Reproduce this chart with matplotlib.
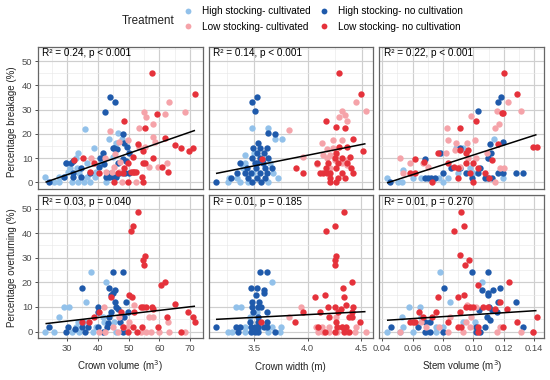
import numpy as np
import matplotlib
matplotlib.use('Agg')
import matplotlib.pyplot as plt
from matplotlib.lines import Line2D
from matplotlib.ticker import FixedLocator

plt.rcParams['font.family'] = ['Liberation Sans', 'DejaVu Sans']

# ---------------- data ----------------
group_labels = ['High stocking- cultivated', 'High stocking- no cultivation',
                'Low stocking- cultivated', 'Low stocking- no cultivation']
group_colors = ['#92c1ea', '#1f5aab', '#f5a3a9', '#e5323b']

x_titles = ['Crown volume (m$^3$)', 'Crown width (m)', 'Stem volume (m$^3$)']
y_titles = ['Percentage breakage (%)', 'Percentage overturning (%)']

stats_text = ['R\u00b2 = 0.24, p < 0.001', 'R\u00b2 = 0.14, p < 0.001', 'R\u00b2 = 0.22, p < 0.001',
              'R\u00b2 = 0.03, p = 0.040', 'R\u00b2 = 0.01, p = 0.185', 'R\u00b2 = 0.01, p = 0.270']
fit_slope = [0.44, 8.85, 202.5, 0.146, 2.25, 39.8]
fit_intercept = [-10.1, -24.2, -9.0, -0.13, -2.1, 2.9]

# Panel 1: crown volume vs breakage
p1_hc = [(36.0,22.1),(46.6,20.4),(43.8,17.9),(47.8,17.9),(38.7,14.2),(33.5,11.9),(32.9,9.9),(36.4,7.8),
         (33.1,6.0),(30.4,4.2),(31.0,6.0),(27.5,2.1),(25.9,0),(27.3,0),(23.0,2.1),(33.5,0),(35.6,0),
         (36.5,2.1),(39.4,4.2),(41.1,7.8),(44.9,10.5),(45.9,16.0),(42.7,0),(46.0,2.1),(39.2,2.1),
         (29.7,7.8),(31.5,0),(29.0,2.1),(34.0,4.0),(37.5,0),(44.0,2.1),(48.0,4.0)]
p1_hn = [(43.9,35.2),(45.6,33.2),(42.5,29.0),(48.1,20.1),(49.5,14.7),(48.5,16.0),(45.4,14.2),(46.2,13.8),
         (44.9,14.2),(41.6,12.2),(40.7,9.9),(48.3,9.6),(49.2,8.9),(50.1,11.9),(46.7,7.8),(32.1,8.9),
         (29.7,7.8),(31.4,7.8),(34.5,5.9),(32.1,4.0),(31.9,2.1),(34.6,2.1),(24.3,0),(28.9,2.1),(40.5,6.2),
         (42.7,2.1),(43.8,2.1),(44.9,2.1),(45.8,2.1),(42.9,4.0),(47.0,4.0),(49.0,4.0),(50.1,4.0),
         (37.5,4.0),(41.9,7.5)]
p1_lc = [(63.1,33.2),(68.2,29.0),(55.1,29.0),(55.7,27.0),(61.7,28.1),(57.9,24.2),(53.3,22.2),(58.1,18.8),
         (49.8,17.4),(47.0,16.7),(44.0,21.2),(37.8,10.1),(42.5,10.1),(45.5,11.5),(53.5,14.7),(55.4,14.7),
         (58.6,16.7),(59.5,6.2),(62.5,7.8),(56.8,6.2),(46.8,4.4),(47.9,0),(52.4,0),(45.4,6.2),(44.5,4.1),
         (42.7,4.1),(47.3,8.5)]
p1_ln = [(57.6,45.2),(71.6,36.4),(59.4,28.2),(48.6,25.3),(55.3,22.2),(61.9,18.1),(65.1,15.2),(66.9,14.2),
         (69.5,12.9),(71.1,14.1),(53.0,15.8),(54.8,12.7),(58.0,10.1),(51.4,10.3),(61.0,6.2),(62.7,4.1),
         (54.7,7.8),(55.3,7.8),(49.7,7.8),(50.8,4.2),(51.4,4.2),(51.9,4.2),(52.5,4.2),(48.6,5.9),(48.3,3.7),
         (54.4,2.1),(54.8,0),(45.4,0),(49.8,0),(40.5,4.0),(37.5,4.2),(32.4,9.3),(35.1,9.9),(38.7,7.8),
         (46.6,3.7)]

# Panel 2: crown width vs breakage
p2_hc = [(3.475,22.2),(3.630,22.2),(3.691,17.9),(3.753,17.9),(3.414,11.2),(3.414,8.1),(3.645,8.1),
         (3.398,6.0),(3.269,1.9),(3.336,1.9),(3.367,0),(3.444,0),(3.630,0),(3.722,1.9),(3.259,0),
         (3.670,4.0),(3.491,4.0),(3.497,12.2)]
p2_hn = [(3.478,33.2),(3.525,35.2),(3.506,29.3),(3.691,20.1),(3.623,20.4),(3.534,16.0),(3.491,14.2),
         (3.552,14.2),(3.614,14.2),(3.522,12.2),(3.590,12.2),(3.475,10.1),(3.552,10.1),(3.630,10.1),
         (3.568,9.2),(3.522,8.1),(3.583,8.1),(3.367,8.1),(3.429,6.0),(3.515,6.0),(3.599,6.0),(3.660,6.0),
         (3.336,4.0),(3.414,4.0),(3.466,4.0),(3.552,4.0),(3.614,4.0),(3.284,1.9),(3.444,1.9),(3.522,1.9),
         (3.599,1.9),(3.145,0),(3.475,0),(3.559,0),(3.506,7.8)]
p2_lc = [(4.441,33.2),(4.531,29.3),(4.315,29.3),(4.340,27.9),(4.287,27.0),(4.355,25.2),(3.824,21.4),
         (4.123,16.0),(4.231,17.4),(4.309,17.4),(4.176,13.9),(3.954,10.3),(4.139,11.2),(4.201,11.2),
         (4.262,11.2),(4.170,10.1),(4.247,9.2),(4.355,9.2),(4.309,8.1),(4.355,7.1),(4.077,7.4),
         (4.201,6.0),(4.231,14.2)]
p2_ln = [(4.284,45.2),(4.488,36.4),(4.164,25.3),(4.262,22.6),(4.340,22.2),(4.417,17.9),(4.509,13.0),
         (4.287,14.4),(4.355,14.4),(4.386,10.5),(4.262,11.9),(4.247,10.1),(4.309,10.1),(4.077,8.1),
         (4.185,8.1),(4.278,8.1),(4.355,8.1),(3.886,6.0),(4.164,6.0),(4.262,6.0),(4.401,6.0),(3.954,4.0),
         (4.108,4.0),(4.139,4.0),(4.170,4.0),(4.201,4.0),(4.309,4.0),(4.417,4.0),(4.201,1.9),(4.278,1.9),
         (4.340,1.9),(4.201,0),(4.262,0),(3.568,9.6)]

# Panel 3: stem volume vs breakage
p3_hc = [(0.1134,17.9),(0.0932,14.0),(0.0888,14.0),(0.0785,11.9),(0.0976,5.9),(0.0536,5.1),(0.0431,1.9),
         (0.0503,0),(0.0530,0),(0.0602,1.9),(0.0657,1.9),(0.0774,1.9),(0.0800,0),(0.0833,1.9),(0.0899,4.0),
         (0.0998,4.0),(0.1196,1.9),(0.1097,10.1)]
p3_hn = [(0.1180,35.2),(0.1163,33.2),(0.1031,29.3),(0.1108,15.6),(0.1196,16.7),(0.1114,11.9),(0.1097,10.1),
         (0.0910,14.0),(0.0778,11.9),(0.0679,9.5),(0.0453,0),(0.0679,1.9),(0.0701,1.9),(0.0723,1.9),
         (0.0745,1.9),(0.0800,4.0),(0.0855,6.0),(0.0910,6.0),(0.0954,4.0),(0.1031,4.0),(0.1075,1.9),
         (0.1097,1.9),(0.1119,1.9),(0.1163,4.0),(0.1196,4.0),(0.1279,4.0),(0.1327,4.0),(0.1042,6.0),
         (0.0993,1.9)]
p3_lc = [(0.1229,33.2),(0.1316,29.3),(0.1152,29.3),(0.0987,27.3),(0.1169,24.2),(0.1145,22.2),(0.0829,22.2),
         (0.0833,17.4),(0.0888,16.0),(0.0958,16.0),(0.1009,17.4),(0.1086,11.9),(0.0822,11.9),(0.0877,13.3),
         (0.1020,9.9),(0.0965,9.9),(0.0910,6.4),(0.0580,8.1),(0.0519,10.0),(0.0668,8.1),(0.0701,6.4),
         (0.1141,0),(0.1202,6.0),(0.1174,6.0),(0.0536,4.0)]
p3_ln = [(0.1202,45.2),(0.1284,36.4),(0.1196,28.4),(0.1187,28.4),(0.1020,25.3),(0.0914,22.2),(0.1393,14.4),
         (0.1415,14.4),(0.0767,12.2),(0.0910,13.3),(0.0965,13.3),(0.0954,11.9),(0.0613,9.7),(0.0677,8.5),
         (0.0833,8.1),(0.0870,6.4),(0.0580,4.0),(0.0613,4.0),(0.0899,6.0),(0.0949,7.8),(0.0998,7.8),
         (0.1031,6.0),(0.1075,4.0),(0.0730,0),(0.0899,1.9),(0.0998,0),(0.0976,4.0),(0.1119,9.2),
         (0.1103,1.9),(0.1163,15.6)]

# Panel 4: crown volume vs overturning
p4_hc = [(37.8,24.1),(42.7,20.0),(36.2,12.0),(28.9,10.0),(30.8,10.0),(27.3,6.1),(33.5,4.1),(35.6,4.1),
         (23.0,0),(25.7,0),(32.9,2.0),(31.5,0),(39.4,2.0),(42.1,4.1),(45.4,4.1),(38.6,0),(34.0,0),
         (45.9,0),(41.6,6.1)]
p4_hn = [(44.9,24.1),(48.3,24.1),(35.0,17.8),(43.8,17.8),(45.6,16.9),(44.9,15.8),(44.3,15.0),(45.6,11.9),
         (49.2,11.9),(40.0,10.0),(45.9,10.1),(46.5,9.1),(44.4,8.1),(49.8,8.1),(40.1,8.1),(48.6,6.1),
         (47.2,4.1),(43.8,5.8),(43.2,3.4),(34.9,2.0),(30.2,2.0),(24.3,2.0),(32.5,1.0),(36.7,2.0),(40.2,2.0),
         (43.0,2.0),(29.7,0),(35.7,0),(41.6,0),(48.1,0)]
p4_lc = [(42.1,10.0),(51.9,10.8),(57.8,6.1),(56.6,6.1),(48.3,2.0),(45.1,2.0),(62.7,4.1),(40.5,0),(42.4,0),
         (46.5,0),(49.4,2.0),(54.1,0),(55.7,0),(57.3,0),(60.0,0),(63.1,0),(68.2,0),(50.3,4.1),(47.0,6.1)]
p4_ln = [(53.2,48.6),(51.4,42.8),(50.8,40.9),(55.4,30.8),(54.8,29.1),(55.1,27.0),(60.5,19.1),(61.9,20.1),
         (50.3,14.9),(51.1,13.9),(44.3,13.9),(65.1,11.1),(69.2,8.1),(70.9,5.8),(71.6,4.1),(62.4,5.8),
         (54.0,10.0),(54.8,10.0),(55.7,10.0),(57.6,10.0),(57.8,9.1),(51.9,8.1),(47.6,8.1),(40.5,8.1),
         (38.9,5.8),(37.3,4.1),(34.9,4.1),(51.4,2.0),(54.4,2.0),(59.5,2.0),(67.1,0),(49.8,0),(48.1,2.0),
         (52.7,0)]

# Panel 5: crown width vs overturning
p5_hc = [(3.667,20.1),(3.336,10.0),(3.383,10.0),(3.497,8.1),(3.528,8.1),(3.259,0),(3.290,0),(3.414,0),
         (3.630,0),(3.738,0),(3.670,2.0),(3.753,2.0),(3.414,2.0),(3.552,2.0),(3.460,6.1)]
p5_hn = [(3.552,24.1),(3.620,24.1),(3.469,17.8),(3.528,17.8),(3.590,16.9),(3.590,15.8),(3.522,14.9),
         (3.485,12.0),(3.546,12.0),(3.485,10.0),(3.537,10.0),(3.568,10.0),(3.491,8.1),(3.620,8.1),
         (3.537,6.1),(3.460,4.1),(3.537,4.1),(3.620,4.1),(3.145,2.0),(3.336,2.0),(3.367,2.0),(3.475,2.0),
         (3.512,2.0),(3.537,2.0),(3.590,2.0),(3.620,2.0),(3.352,0),(3.475,0),(3.506,0),(3.537,0),(3.691,0)]
p5_lc = [(3.824,6.1),(3.941,10.0),(4.077,2.0),(4.133,2.0),(4.201,2.0),(4.324,2.0),(4.448,2.0),(4.093,0),
         (4.139,0),(4.201,0),(4.278,0),(4.370,0),(4.438,0),(4.540,0),(4.262,6.1)]
p5_ln = [(4.343,48.6),(4.253,42.8),(4.173,40.9),(4.262,30.8),(4.253,29.1),(4.253,27.0),(4.417,20.1),
         (4.330,17.8),(4.068,13.9),(4.160,14.9),(4.340,13.9),(4.355,10.9),(4.426,10.0),(4.194,10.0),
         (4.256,10.0),(4.309,9.1),(3.954,8.1),(4.117,8.1),(4.287,8.1),(4.417,8.1),(4.201,6.1),(4.386,6.1),
         (4.417,6.1),(3.886,4.1),(4.262,4.1),(4.485,4.1),(3.568,4.1),(4.093,2.0),(4.278,2.0),(4.318,2.0),
         (4.355,2.0),(4.164,0),(4.253,0),(4.340,0),(4.386,0)]

# Panel 6: stem volume vs overturning
p6_hc = [(0.0778,24.1),(0.1053,20.1),(0.0848,12.0),(0.0574,10.0),(0.0646,10.0),(0.0530,6.1),(0.0657,6.1),
         (0.0536,2.0),(0.0756,2.0),(0.0800,2.0),(0.0431,0),(0.0514,0),(0.0602,0),(0.0690,0),(0.0756,0),
         (0.0932,4.1),(0.1009,4.1)]
p6_hn = [(0.0993,24.1),(0.1097,24.1),(0.0804,17.8),(0.1057,16.9),(0.1097,15.8),(0.1130,16.9),(0.1174,17.8),
         (0.1097,14.9),(0.1279,12.0),(0.1163,12.0),(0.1037,8.8),(0.1103,10.0),(0.1119,8.8),(0.1152,8.1),
         (0.1086,6.1),(0.1108,4.7),(0.0679,4.1),(0.0716,4.1),(0.0455,2.0),(0.0635,2.0),(0.1020,2.0),
         (0.1075,2.0),(0.1327,2.0),(0.0679,0),(0.0712,0),(0.0800,0),(0.1020,0),(0.1042,0)]
p6_lc = [(0.0958,10.9),(0.1020,10.0),(0.0844,6.1),(0.0657,4.1),(0.0954,4.1),(0.0987,6.1),(0.0690,2.0),
         (0.0774,2.0),(0.0976,2.0),(0.1174,2.0),(0.0514,0),(0.0833,0),(0.0932,0),(0.1156,0),(0.1316,0),
         (0.1389,0)]
p6_ln = [(0.0921,48.6),(0.0936,42.8),(0.0873,40.9),(0.0914,31.1),(0.0971,29.1),(0.0943,27.0),(0.1231,20.1),
         (0.1031,19.1),(0.0767,13.9),(0.0899,13.9),(0.0936,14.9),(0.1174,12.0),(0.0954,10.0),(0.0976,10.0),
         (0.0998,10.0),(0.1064,10.0),(0.1097,10.0),(0.1218,9.1),(0.1141,9.1),(0.0640,8.1),(0.0752,8.1),
         (0.0910,8.1),(0.0668,6.1),(0.0727,6.1),(0.0580,4.1),(0.0602,4.1),(0.0613,4.1),(0.1284,4.1),
         (0.1415,6.1),(0.0899,2.0),(0.0921,2.0),(0.1196,2.0),(0.1393,0),(0.1031,0),(0.1031,2.0),(0.0833,4.1)]

panels = [[p1_hc, p1_hn, p1_lc, p1_ln], [p2_hc, p2_hn, p2_lc, p2_ln], [p3_hc, p3_hn, p3_lc, p3_ln],
          [p4_hc, p4_hn, p4_lc, p4_ln], [p5_hc, p5_hn, p5_lc, p5_ln], [p6_hc, p6_hn, p6_lc, p6_ln]]

x_major = [[30, 40, 50, 60, 70], [3.5, 4.0, 4.5], [0.04, 0.06, 0.08, 0.10, 0.12, 0.14]]
x_minor = [[25, 35, 45, 55, 65], [3.25, 3.75, 4.25], [0.05, 0.07, 0.09, 0.11, 0.13]]
x_ticklabels = [['30', '40', '50', '60', '70'], ['3.5', '4.0', '4.5'],
                ['0.04', '0.06', '0.08', '0.10', '0.12', '0.14']]
y_major = [0, 10, 20, 30, 40, 50]
y_minor = [5, 15, 25, 35, 45, 55]

# ---------------- layout ----------------
W, H = 550, 380
fig = plt.figure(figsize=(W / 100, H / 100), dpi=100)
col_left = [38, 208.5, 379.5]
col_w = 164.5
row_top = [46.5, 195]
row_h = [142.8, 143]
ylims = [(-2.9, 56.0), (-2.6, 55.5)]

grey_text = '#4d4d4d'
for i in range(6):
    r, c = divmod(i, 3)
    ax = fig.add_axes([col_left[c] / W, 1 - (row_top[r] + row_h[r]) / H, col_w / W, row_h[r] / H])
    allx = []
    for g in range(4):
        pts = np.array(panels[i][g], dtype=float)
        allx.extend(pts[:, 0])
        ax.scatter(pts[:, 0], pts[:, 1], s=21, color=group_colors[g], linewidths=0, zorder=3 + g)
    xmin, xmax = min(allx), max(allx)
    xs = np.array([xmin, xmax])
    ax.plot(xs, fit_intercept[i] + fit_slope[i] * xs, color='black', lw=1.1, zorder=10,
            solid_capstyle='butt')
    pad = 0.05 * (xmax - xmin)
    ax.set_xlim(xmin - pad, xmax + pad)
    ax.set_ylim(*ylims[r])
    ax.xaxis.set_major_locator(FixedLocator(x_major[c]))
    ax.xaxis.set_minor_locator(FixedLocator(x_minor[c]))
    ax.yaxis.set_major_locator(FixedLocator(y_major))
    ax.yaxis.set_minor_locator(FixedLocator(y_minor))
    ax.set_axisbelow(True)
    ax.grid(which='major', color='#cfcfcf', lw=0.85)
    ax.grid(which='minor', color='#e9e9e9', lw=0.45)
    for sp in ax.spines.values():
        sp.set_color('#666666')
        sp.set_linewidth(0.9)
    ax.tick_params(which='major', direction='out', length=2.5, width=0.7, color=grey_text,
                   labelsize=6.8, labelcolor=grey_text, pad=1.5)
    ax.tick_params(which='minor', length=0)
    if r == 0:
        ax.tick_params(axis='x', which='major', length=0, labelbottom=False)
    else:
        ax.set_xticklabels(x_ticklabels[c])
    if c != 0:
        ax.tick_params(axis='y', which='major', length=0, labelleft=False)
    ax.annotate(stats_text[i], xy=(0, 1), xycoords='axes fraction', xytext=(4.5, -7),
                textcoords='offset pixels', ha='left', va='center', fontsize=7.2, color='black',
                zorder=20)

# axis titles
for c in range(3):
    fig.text((col_left[c] + col_w / 2) / W, 1 - 370.5 / H, x_titles[c], ha='center', va='baseline',
             fontsize=7, color='#222222')
fig.text(12 / W, 1 - 122 / H, y_titles[0], rotation=90, ha='center', va='center', fontsize=7,
         color='#222222')
fig.text(12 / W, 1 - 268 / H, y_titles[1], rotation=90, ha='center', va='center', fontsize=7,
         color='#222222')

# legend
handles = [Line2D([], [], marker='o', ls='', color=group_colors[g], markersize=4.2, markeredgewidth=0)
           for g in [0, 2, 1, 3]]
labels = [group_labels[g] for g in [0, 2, 1, 3]]
fig.legend(handles, labels, ncol=2, loc='upper left', bbox_to_anchor=(179 / W, 1 - 2 / H),
           frameon=False, fontsize=7.2, handlelength=1.0, handletextpad=0.9, columnspacing=0.86,
           labelspacing=0.55, borderpad=0.4, borderaxespad=0)
fig.text(121.5 / W, 1 - 21.5 / H, 'Treatment', ha='left', va='center', fontsize=8.4, color='#222222')

fig.savefig('out.png', dpi=100)
